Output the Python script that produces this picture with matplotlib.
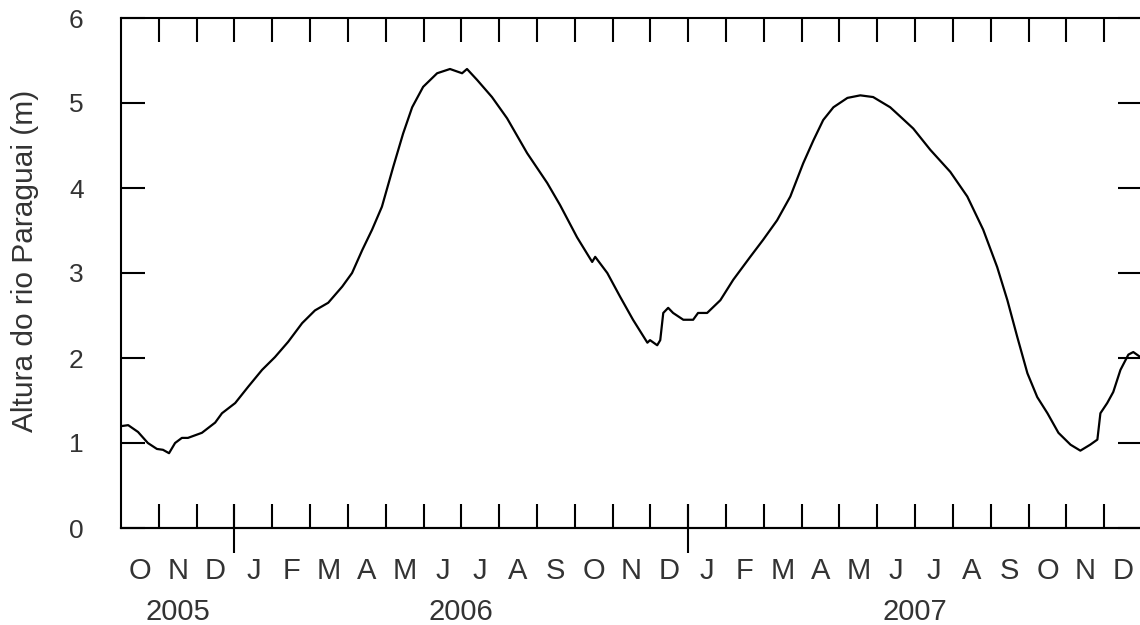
import matplotlib.pyplot as plt
from matplotlib.ticker import FixedLocator, FixedFormatter
import numpy as np

plt.rcParams['font.family'] = ['Liberation Sans', 'DejaVu Sans']

# months counted from 1 Oct 2005 (0) to 1 Jan 2008 (27)
month_pos = [0.03, 0.19, 0.45, 0.71, 0.95, 1.11, 1.27, 1.43, 1.61, 1.77,
             2.14, 2.49, 2.67, 3.02, 3.36, 3.73, 4.07, 4.42, 4.79, 5.13,
             5.48, 5.85, 6.11, 6.38, 6.64, 6.90, 7.20, 7.46, 7.70, 7.99,
             8.36, 8.70, 9.02, 9.15, 9.42, 9.81, 10.21, 10.74, 11.27, 11.61,
             12.06, 12.46, 12.54, 12.86, 13.20, 13.54, 13.92, 13.99, 14.18, 14.26,
             14.34, 14.47, 14.60, 14.87, 15.13, 15.26, 15.50, 15.85, 16.19, 16.64,
             16.98, 17.35, 17.70, 18.04, 18.31, 18.57, 18.84, 19.21, 19.55, 19.89,
             20.34, 20.61, 20.95, 21.40, 21.93, 22.38, 22.80, 23.17, 23.44, 23.70,
             23.97, 24.23, 24.50, 24.79, 25.11, 25.37, 25.63, 25.82, 25.90, 26.08,
             26.24, 26.43, 26.64, 26.77, 26.96]
level = [1.20, 1.21, 1.13, 1.00, 0.93, 0.92, 0.88, 1.00, 1.06, 1.06,
         1.12, 1.24, 1.35, 1.47, 1.66, 1.86, 2.01, 2.19, 2.41, 2.56,
         2.65, 2.84, 3.00, 3.27, 3.51, 3.78, 4.25, 4.64, 4.95, 5.19,
         5.35, 5.40, 5.35, 5.40, 5.27, 5.07, 4.82, 4.41, 4.06, 3.80,
         3.42, 3.13, 3.19, 3.00, 2.72, 2.45, 2.18, 2.21, 2.15, 2.21,
         2.53, 2.59, 2.53, 2.45, 2.45, 2.53, 2.53, 2.68, 2.92, 3.19,
         3.39, 3.62, 3.90, 4.29, 4.56, 4.80, 4.95, 5.06, 5.09, 5.07,
         4.95, 4.84, 4.70, 4.45, 4.19, 3.90, 3.51, 3.07, 2.68, 2.25,
         1.82, 1.54, 1.35, 1.12, 0.98, 0.91, 0.98, 1.04, 1.35, 1.47,
         1.60, 1.86, 2.04, 2.07, 2.01]

month_labels = ['O', 'N', 'D',
                'J', 'F', 'M', 'A', 'M', 'J', 'J', 'A', 'S', 'O', 'N', 'D',
                'J', 'F', 'M', 'A', 'M', 'J', 'J', 'A', 'S', 'O', 'N', 'D']
years = ['2005', '2006', '2007']
year_start = [0, 3, 15]
year_end = [3, 15, 27]

txt = '#333333'
px = 72 / 100  # points per pixel

fig = plt.figure(figsize=(11.4, 6.25), dpi=100)
ax = fig.add_axes([121 / 1140, 97 / 625, 1021 / 1140, 510 / 625])

ax.plot(month_pos, level, color='black', lw=1.6)

ax.set_xlim(0, len(month_labels))
ax.set_ylim(0, 6)

for s in ax.spines.values():
    s.set_linewidth(1.5)
ax.spines['right'].set_visible(False)

# y axis
ax.set_yticks(range(7))
ax.tick_params(axis='y', direction='in', length=24 * px, width=1.5,
               left=True, right=True, labelsize=19, labelcolor=txt,
               pad=27)
ax.set_ylabel('Altura do rio Paraguai (m)', fontsize=21.5, color=txt)
ax.yaxis.set_label_coords(-0.080, 0.524)

# x axis: month boundaries as ticks, month letters centred in between
n = len(month_labels)
ax.xaxis.set_major_locator(FixedLocator(np.arange(1, n)))
ax.xaxis.set_major_formatter(FixedFormatter([''] * (n - 1)))
ax.xaxis.set_minor_locator(FixedLocator(np.arange(n) + 0.5))
ax.xaxis.set_minor_formatter(FixedFormatter(month_labels))
ax.xaxis.remove_overlapping_locs = False
ax.tick_params(axis='x', which='major', direction='in', length=24 * px,
               width=1.5, top=True, bottom=True)
ax.tick_params(axis='x', which='minor', length=0, top=False,
               labelsize=21, labelcolor=txt, pad=21)

# longer ticks at the turn of the year
sec = ax.secondary_xaxis('bottom')
sec.set_xticks(year_start[1:])
sec.set_xticklabels([])
sec.tick_params(direction='inout', length=49 * px, width=1.5)
sec.spines['bottom'].set_linewidth(1.5)

for yr, a, b in zip(years, year_start, year_end):
    ax.text((a + b) / 2, -0.165, yr, transform=ax.get_xaxis_transform(),
            ha='center', va='center', fontsize=21, color=txt)

fig.savefig('out.png', dpi=100)
